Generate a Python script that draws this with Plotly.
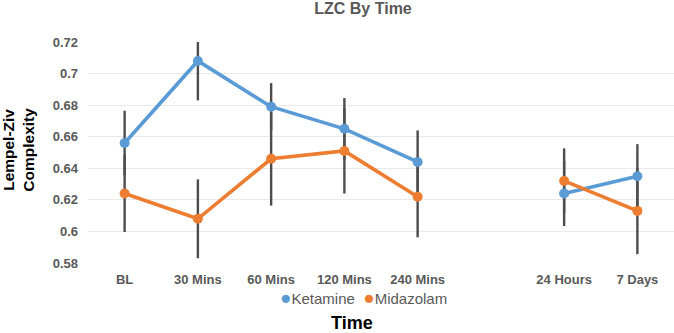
import plotly.graph_objects as go

categories = ["BL", "30 Mins", "60 Mins", "120 Mins", "240 Mins", " ", "24 Hours", "7 Days"]
ketamine = [0.656, 0.708, 0.679, 0.665, 0.644, None, 0.624, 0.635]
ketamine_err = [0.0205, 0.025, 0.015, 0.0195, 0.020, None, 0.0206, 0.0203]
midazolam = [0.624, 0.608, 0.646, 0.651, 0.622, None, 0.632, 0.613]
midazolam_err = [0.0244, 0.025, 0.0296, 0.027, 0.0257, None, 0.0206, 0.0274]
y_ticks = [0.58, 0.6, 0.62, 0.64, 0.66, 0.68, 0.7, 0.72]
y_tick_labels = ["0.58", "0.6", "0.62", "0.64", "0.66", "0.68", "0.7", "0.72"]

BLUE = "#5B9BD5"
ORANGE = "#ED7D31"
GRAY = "#595959"
FONT = "Liberation Sans, Arial, sans-serif"

fig = go.Figure()

# error bars first so they sit beneath all lines and markers
for vals, errs in [(ketamine, ketamine_err), (midazolam, midazolam_err)]:
    fig.add_trace(go.Scatter(
        x=categories, y=vals, mode="markers",
        marker=dict(size=2, opacity=0),
        error_y=dict(type="data", array=errs, visible=True,
                     color="#4D4D4D", thickness=2.4, width=0),
        showlegend=False, hoverinfo="skip",
    ))

for name, vals, color in [("Ketamine", ketamine, BLUE), ("Midazolam", midazolam, ORANGE)]:
    fig.add_trace(go.Scatter(
        x=categories, y=vals, name=name, mode="lines+markers",
        line=dict(color=color, width=3.6),
        marker=dict(color=color, size=10),
        connectgaps=False, showlegend=False,
    ))

fig.update_layout(
    width=674, height=333,
    margin=dict(l=88, r=0, t=42, b=70),
    paper_bgcolor="white", plot_bgcolor="white",
    font=dict(family=FONT, color=GRAY),
    title=dict(text="<b>LZC By Time</b>", font=dict(size=16, color=GRAY, family=FONT),
               x=(363 - 88) / 586, xref="paper", xanchor="center",
               y=1 - 8 / 333, yref="container", yanchor="middle"),
    showlegend=False,
    xaxis=dict(
        type="category", categoryorder="array", categoryarray=categories,
        range=[-0.5, len(categories) - 0.5],
        showgrid=False, zeroline=False, showline=False, ticks="",
        tickfont=dict(size=13, color=GRAY, family=FONT, weight="bold"),
        ticklabelstandoff=7,
    ),
    yaxis=dict(
        range=[0.58, 0.72], tickvals=y_ticks, ticktext=y_tick_labels,
        showgrid=True, gridcolor="#E9E9E9", gridwidth=1,
        zeroline=False, showline=False, ticks="",
        tickfont=dict(size=13, color=GRAY, family=FONT, weight="bold"),
        ticklabelstandoff=9,
    ),
    annotations=[
        dict(text="<b>Lempel-Ziv<br>Complexity</b>", textangle=-90,
             xref="paper", yref="paper", x=(19 - 88) / 586, y=(263.3 - 150) / 221,
             xanchor="center", yanchor="middle", showarrow=False,
             font=dict(size=15.5, color="black", family=FONT)),
        dict(text="<b>Time</b>", xref="paper", yref="paper",
             x=(351.7 - 88) / 586, y=(263.3 - 323) / 221,
             xanchor="center", yanchor="middle", showarrow=False,
             font=dict(size=18, color="black", family=FONT)),
        dict(text=f"<span style='color:{BLUE};font-size:19px'>●</span>Ketamine  "
                  f"<span style='color:{ORANGE};font-size:19px'>●</span>Midazolam",
             xref="paper", yref="paper",
             x=(363 - 88) / 586, y=(263.3 - 297.3) / 221,
             xanchor="center", yanchor="middle", showarrow=False,
             font=dict(size=15, color=GRAY, family=FONT)),
    ],
)

fig.write_html("out.html", config={"displayModeBar": False},
               post_script="document.body.style.margin='0';")
